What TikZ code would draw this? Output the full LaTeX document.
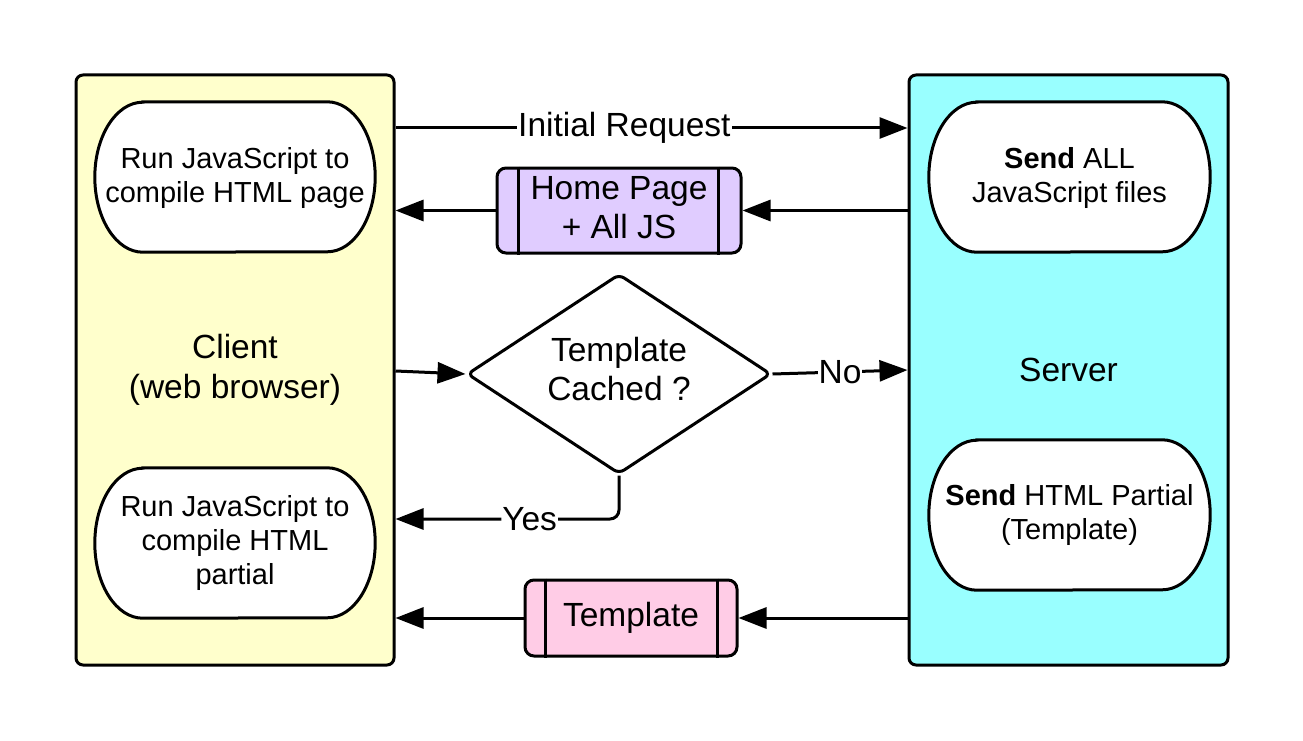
\documentclass[tikz,border=0pt]{standalone}
\usepackage{fontspec}
\setmainfont{Liberation Sans}
\usetikzlibrary{arrows.meta,shapes.geometric}
\pgfdeclarelayer{bg}
\pgfdeclarelayer{mid}
\pgfsetlayers{bg,mid,main}
\definecolor{clientfill}{HTML}{FFFFCC}
\definecolor{serverfill}{HTML}{99FFFF}
\definecolor{homefill}{HTML}{E0CCFF}
\definecolor{tmplfill}{HTML}{FFCCE6}
\tikzset{
  bigfont/.style={font=\fontsize{33.5}{39.5}\selectfont},
  boxfont/.style={font=\fontsize{29}{34}\selectfont},
  container/.style={draw, line width=3pt, rounded corners=7pt, minimum height=590pt, bigfont, align=center},
  term/.style={minimum width=280pt, minimum height=150pt, boxfont, align=center, inner sep=0pt},
  termline/.style={draw, line width=3pt, fill=white},
  msg/.style={draw, line width=3pt, rounded corners=9pt, bigfont, align=center, inner sep=0pt},
  decision/.style={diamond, draw, line width=3pt, fill=white, rounded corners=6pt, minimum width=304pt, minimum height=200pt, shape aspect=1.5, inner sep=0pt, bigfont, align=center},
  flow/.style={line width=3pt, -{Triangle[length=28pt,width=21pt]}},
  lbl/.style={fill=white, inner sep=1pt, bigfont}
}
\begin{document}
\begin{tikzpicture}[x=1pt,y=-1pt]
\useasboundingbox (0,0) rectangle (1303,741);
\begin{pgfonlayer}{bg}
\node[container, fill=clientfill, minimum width=318pt] (client) at (235,370) {Client\\(web browser)};
\node[container, fill=serverfill, minimum width=319pt] (server) at (1068.5,370) {Server};
\end{pgfonlayer}
% terminator boxes
\node[term, text depth=5pt] (c1) at (235,177) {Run JavaScript to\\compile HTML page};
\node[term] (c2) at (235,543) {Run JavaScript to\\compile HTML\\partial};
\node[term, minimum width=281pt, text depth=4pt] (s1) at (1069.5,177) {\textbf{Send} ALL\\JavaScript files};
\node[term, minimum width=281pt] (s2) at (1069.5,515) {\textbf{Send} HTML Partial\\(Template)};
\begin{pgfonlayer}{mid}
\foreach \n in {c1,c2,s1,s2}{
  \draw[termline] ([xshift=48pt]\n.north west) -- ([xshift=-48pt]\n.north east)
    arc[start angle=90, end angle=-90, x radius=48pt, y radius=75pt]
    -- ([xshift=48pt]\n.south west)
    arc[start angle=270, end angle=90, x radius=48pt, y radius=75pt] -- cycle;
}
\end{pgfonlayer}
% message boxes
\node[msg, fill=homefill, minimum width=244pt, minimum height=85pt, text depth=6pt] (home) at (619,210.5) {Home Page\\+ All JS};
\draw[line width=3pt] ([xshift=23pt]home.north west) -- ([xshift=23pt]home.south west);
\draw[line width=3pt] ([xshift=-24pt]home.north east) -- ([xshift=-24pt]home.south east);
\node[msg, fill=tmplfill, minimum width=212pt, minimum height=76pt] (tmpl) at (631,618) {Template};
\draw[line width=3pt] ([xshift=22pt]tmpl.north west) -- ([xshift=22pt]tmpl.south west);
\draw[line width=3pt] ([xshift=-21pt]tmpl.north east) -- ([xshift=-21pt]tmpl.south east);
% decision
\node[decision, text depth=10pt] (dia) at (619,374) {Template\\Cached ?};
% connectors
\draw[flow] (client.east |- 0,128) -- node[lbl, pos=0.447] {Initial Request} (server.west |- 0,128);
\draw[flow] (server.west |- home.center) -- (home.east);
\draw[flow] (home.west) -- (client.east |- home.center);
\draw[flow] (client.east |- 0,371) -- (dia.west);
\draw[flow] (dia.east) -- node[lbl, pos=0.5] {No} (server.west |- 0,370);
\draw[flow, rounded corners=9pt] (dia.south) |- node[lbl, pos=0.70] {Yes} (client.east |- 0,519);
\draw[flow] (server.west |- tmpl.center) -- (tmpl.east);
\draw[flow] (tmpl.west) -- (client.east |- tmpl.center);
\end{tikzpicture}
\end{document}
